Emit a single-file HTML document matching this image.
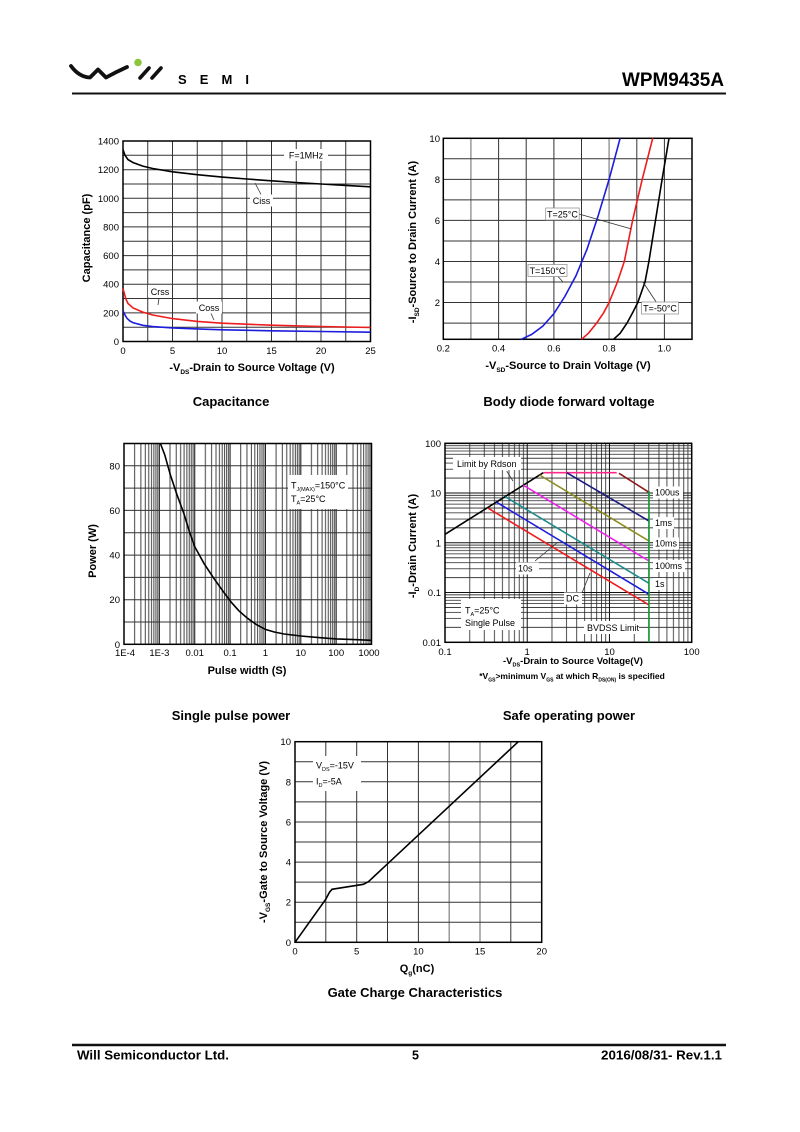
<!DOCTYPE html>
<html><head><meta charset="utf-8"><style>
html,body{margin:0;padding:0;background:#fff;}
svg{display:block;}
text{font-family:"Liberation Sans",Arial,sans-serif;fill:#000;}
.t{font-size:9.5px;}
.ax{font-size:11px;font-weight:bold;}
.cap{font-size:13px;font-weight:bold;}
.an{font-size:9px;}
.g{stroke:#333;stroke-width:1;fill:none;}
.gl{stroke:#8a8a8a;stroke-width:1.3;fill:none;}
.fr{stroke:#000;stroke-width:1.5;fill:none;}
</style></head><body>
<svg width="800" height="1132" viewBox="0 0 800 1132" xmlns="http://www.w3.org/2000/svg">
<defs>
<pattern id="spx" patternUnits="userSpaceOnUse" x="124" y="0" width="35.36" height="20">
<path d="M10.64,0V20M16.87,0V20M21.29,0V20M24.72,0V20M27.52,0V20M29.88,0V20M31.93,0V20M33.74,0V20" stroke="#444" stroke-width="1"/>
</pattern>
<pattern id="sox" patternUnits="userSpaceOnUse" x="445" y="0" width="82.23" height="20">
<path d="M24.75,0V20M39.23,0V20M49.51,0V20M57.48,0V20M63.99,0V20M69.49,0V20M74.26,0V20M78.47,0V20" stroke="#222" stroke-width="0.8"/>
</pattern>
<pattern id="soy" patternUnits="userSpaceOnUse" x="0" y="443.3" width="20" height="49.75">
<path d="M0,2.28H20M0,4.82H20M0,7.70H20M0,11.04H20M0,14.98H20M0,19.80H20M0,26.01H20M0,34.77H20" stroke="#222" stroke-width="0.8"/>
</pattern>
</defs>

<!-- HEADER -->
<path d="M71,66 Q79,77 90,77.5 L98,69.5 L106,77.5 Q116,72 127,67" fill="none" stroke="#111" stroke-width="3.8" stroke-linecap="round" stroke-linejoin="round"/>
<path d="M140,78 L149,68 M152,78 L161,68" fill="none" stroke="#111" stroke-width="3.6" stroke-linecap="round"/>
<circle cx="138" cy="62.5" r="3.8" fill="#8cc63f"/>
<text x="178" y="84" style="font-size:13px;font-weight:600;" textLength="71" lengthAdjust="spacing">SEMI</text>
<text x="724" y="86" text-anchor="end" style="font-size:19px;font-weight:bold;" textLength="102" lengthAdjust="spacingAndGlyphs">WPM9435A</text>
<line x1="72" y1="93.5" x2="726" y2="93.5" stroke="#111" stroke-width="2"/>

<!-- CHART 1: Capacitance -->
<rect x="123" y="141" width="247.5" height="200.5" fill="#fff"/>
<path class="g" d="M147.75,141V341.5M172.5,141V341.5M197.25,141V341.5M222,141V341.5M246.75,141V341.5M271.5,141V341.5M296.25,141V341.5M321,141V341.5M345.75,141V341.5"/>
<path class="g" d="M123,327.2H370.5M123,312.9H370.5M123,298.5H370.5M123,284.2H370.5M123,269.9H370.5M123,255.6H370.5M123,241.3H370.5M123,226.9H370.5M123,212.6H370.5M123,198.3H370.5M123,184H370.5M123,169.7H370.5M123,155.3H370.5"/>
<rect class="fr" x="123" y="141" width="247.5" height="200.5"/>
<polyline fill="none" stroke="#000" stroke-width="1.6" points="123,149.6 125,155.3 128,159.6 132.9,162.5 142.8,166.1 152.7,168.5 172.5,171.8 197.3,174.7 222,177.1 246.8,179 271.5,180.8 296.3,182.5 321,184 345.8,185.4 370.5,186.8"/>
<polyline fill="none" stroke="#ee1c1c" stroke-width="1.6" points="123,288.5 124.5,294.2 126,299.3 128,303.5 132.9,307.8 142.8,312.1 152.7,315 172.5,318.6 197.3,321.4 222,323.2 271.5,325.2 321,326.5 370.5,327.5"/>
<polyline fill="none" stroke="#1c1cdd" stroke-width="1.6" points="123,310.7 125,315 127,318.3 129.9,321 132.9,322.6 142.8,325.3 152.7,326.6 172.5,327.9 197.3,328.9 222,329.8 271.5,330.8 321,331.5 370.5,332.2"/>
<rect x="284" y="149" width="44" height="12" fill="#fff"/>
<text class="an" x="306" y="158.3" text-anchor="middle">F=1MHz</text>
<rect x="250" y="194.5" width="23" height="12" fill="#fff"/>
<text class="an" x="261.5" y="204" text-anchor="middle">Ciss</text>
<line x1="261" y1="194.5" x2="255" y2="183" stroke="#333" stroke-width="0.8"/>
<rect x="148" y="285" width="24" height="12" fill="#fff"/>
<text class="an" x="160" y="295" text-anchor="middle">Crss</text>
<line x1="159" y1="298" x2="158" y2="305" stroke="#333" stroke-width="0.8"/>
<rect x="196" y="301.5" width="26" height="12" fill="#fff"/>
<text class="an" x="209" y="311" text-anchor="middle">Coss</text>
<line x1="211" y1="313.5" x2="214" y2="320" stroke="#333" stroke-width="0.8"/>
<g class="t" text-anchor="end">
<text x="119" y="144.5">1400</text><text x="119" y="173.2">1200</text><text x="119" y="201.8">1000</text><text x="119" y="230.4">800</text><text x="119" y="259.1">600</text><text x="119" y="287.7">400</text><text x="119" y="316.4">200</text><text x="119" y="345">0</text>
</g>
<g class="t" text-anchor="middle">
<text x="123" y="354">0</text><text x="172.5" y="354">5</text><text x="222" y="354">10</text><text x="271.5" y="354">15</text><text x="321" y="354">20</text><text x="370.5" y="354">25</text>
</g>
<text class="ax" x="252" y="371" text-anchor="middle">-V<tspan font-size="6.5" dy="3">DS</tspan><tspan dy="-3">-Drain to Source Voltage (V)</tspan></text>
<text class="ax" transform="translate(90,238) rotate(-90)" text-anchor="middle">Capacitance (pF)</text>
<text class="cap" x="231" y="406" text-anchor="middle">Capacitance</text>

<!-- CHART 2: Body diode -->
<path class="g" d="M498.6,138.3V339.3M526.2,138.3V339.3M553.9,138.3V339.3M581.5,138.3V339.3M636.8,138.3V339.3M664.4,138.3V339.3"/>
<path class="gl" d="M470.9,138.3V339.3M609.1,138.3V339.3"/>
<path class="g" d="M443.3,158.8H692M443.3,179.4H692M443.3,199.9H692M443.3,220.4H692M443.3,241H692M443.3,261.5H692M443.3,282H692M443.3,302.5H692M443.3,323.1H692"/>
<rect class="fr" x="443.3" y="138.3" width="248.7" height="201"/>
<polyline fill="none" stroke="#1c1cdd" stroke-width="1.6" points="521.2,339.3 531.7,334.4 542.8,326.1 553.8,313.8 564.9,296.4 575.9,275.9 587,249.2 598,216.3 609.1,179.4 620.1,138.3"/>
<polyline fill="none" stroke="#ee1c1c" stroke-width="1.6" points="581.5,339.3 588.4,333.3 596.6,323.1 603.6,312.8 609.1,302.5 617.4,282 624.3,261.5 632.6,220.4 642.2,179.4 652.7,138.3"/>
<polyline fill="none" stroke="#000" stroke-width="1.6" points="613.5,339.3 620.1,333.3 627,323.1 632.6,312.8 637.8,302.5 645,282 648.9,261.5 655.5,220.4 662.1,179.4 669,138.3"/>
<line x1="579" y1="214" x2="631.5" y2="229" stroke="#333" stroke-width="0.8"/>
<line x1="558" y1="276.5" x2="563" y2="282" stroke="#333" stroke-width="0.8"/>
<line x1="656.5" y1="302.5" x2="643" y2="282" stroke="#333" stroke-width="0.8"/>
<rect x="545.7" y="208" width="33.5" height="12" fill="#fff" stroke="#888" stroke-width="0.7"/>
<text class="an" x="562.4" y="217.3" text-anchor="middle">T=25°C</text>
<rect x="528" y="264.5" width="39" height="12" fill="#fff" stroke="#888" stroke-width="0.7"/>
<text class="an" x="547.5" y="273.8" text-anchor="middle">T=150°C</text>
<rect x="641.5" y="302" width="37" height="12" fill="#fff" stroke="#888" stroke-width="0.7"/>
<text class="an" x="660" y="311.3" text-anchor="middle">T=-50°C</text>
<g class="t" text-anchor="end">
<text x="440" y="141.8">10</text><text x="440" y="182.9">8</text><text x="440" y="223.9">6</text><text x="440" y="265">4</text><text x="440" y="306">2</text>
</g>
<g class="t" text-anchor="middle">
<text x="443.3" y="351.5">0.2</text><text x="498.6" y="351.5">0.4</text><text x="553.9" y="351.5">0.6</text><text x="609.1" y="351.5">0.8</text><text x="664.4" y="351.5">1.0</text>
</g>
<text class="ax" x="568" y="369" text-anchor="middle">-V<tspan font-size="6.5" dy="3">SD</tspan><tspan dy="-3">-Source to Drain Voltage (V)</tspan></text>
<text class="ax" transform="translate(416,242) rotate(-90)" text-anchor="middle">-I<tspan font-size="6.5" dy="3">SD</tspan><tspan dy="-3">-Source to Drain Current (A)</tspan></text>
<text class="cap" x="569" y="406" text-anchor="middle">Body diode forward voltage</text>

<!-- CHART 3: Single pulse power -->
<rect x="124" y="443.5" width="247.5" height="200.8" fill="url(#spx)"/>
<path d="M159.36,443.5V644.3M194.72,443.5V644.3M230.08,443.5V644.3M265.44,443.5V644.3M300.8,443.5V644.3M336.16,443.5V644.3" stroke="#222" stroke-width="1.1"/>
<path class="g" d="M124,622H371.5M124,599.7H371.5M124,577.4H371.5M124,555.1H371.5M124,532.8H371.5M124,510.4H371.5M124,488.1H371.5M124,465.8H371.5"/>
<rect class="fr" x="124" y="443.5" width="247.5" height="200.8"/>
<polyline fill="none" stroke="#000" stroke-width="1.6" points="160.4,443.5 164.7,454.7 170.3,474.7 177,494.8 183.8,513.3 189.4,531.6 194.7,546.6 203.9,563.3 213.8,578.3 223,591.2 230.8,601.7 238.9,610.8 247.4,618.2 256.6,624.7 265.4,629.4 274.3,632 284.2,634 300.8,636 318.5,637.6 336.2,638.9 353.9,639.6 371.5,640.3"/>
<rect x="288" y="475" width="60" height="34" fill="#fff"/>
<text class="an" x="291" y="488.5">T<tspan font-size="5.5" dy="2.5">J(MAX)</tspan><tspan dy="-2.5">=150°C</tspan></text>
<text class="an" x="291" y="502">T<tspan font-size="5.5" dy="2.5">A</tspan><tspan dy="-2.5">=25°C</tspan></text>
<g class="t" text-anchor="end">
<text x="120" y="469.3">80</text><text x="120" y="513.9">60</text><text x="120" y="558.6">40</text><text x="120" y="603.2">20</text><text x="120" y="647.8">0</text>
</g>
<g class="t" text-anchor="middle">
<text x="125" y="656">1E-4</text><text x="159.4" y="656">1E-3</text><text x="194.7" y="656">0.01</text><text x="230.1" y="656">0.1</text><text x="265.4" y="656">1</text><text x="300.8" y="656">10</text><text x="336.2" y="656">100</text><text x="369" y="656">1000</text>
</g>
<text class="ax" x="247" y="674" text-anchor="middle">Pulse width (S)</text>
<text class="ax" transform="translate(96,551) rotate(-90)" text-anchor="middle">Power (W)</text>
<text class="cap" x="231" y="720" text-anchor="middle">Single pulse power</text>

<!-- CHART 4: SOA -->
<rect x="445" y="443.3" width="246.7" height="199" fill="url(#sox)"/>
<rect x="445" y="443.3" width="246.7" height="199" fill="url(#soy)"/>
<path d="M527.23,443.3V642.3M609.46,443.3V642.3M445,493.05H691.7M445,542.8H691.7M445,592.55H691.7" stroke="#111" stroke-width="1"/>
<rect class="fr" x="445" y="443.3" width="246.7" height="199"/>
<g fill="none" stroke-width="1.6">
<polyline stroke="#000" points="445,534.3 543.3,472.7"/>
<polyline stroke="#ff2a8c" points="543.3,472.7 616.7,472.7"/>
<polyline stroke="#8b1a1a" points="619,473.3 649,492.3"/>
<polyline stroke="#1a1a80" points="566.7,472.7 649,521"/>
<polyline stroke="#8c8c1e" points="539.6,475 649,541"/>
<polyline stroke="#ee22ee" points="523.3,485.2 649,561"/>
<polyline stroke="#1e8c8c" points="505.2,496.7 649,583.3"/>
<polyline stroke="#1c1cdd" points="496.7,502.3 649,594.3"/>
<polyline stroke="#ee1c1c" points="488.3,508.3 649,605"/>
<polyline stroke="#1a9a3a" points="649,491 649,642.3"/>
</g>
<rect x="453" y="457" width="68" height="13" fill="#fff"/>
<text class="an" x="457" y="467">Limit by Rdson</text>
<line x1="506.7" y1="471" x2="513" y2="481" stroke="#333" stroke-width="0.8"/>
<rect x="653" y="486.5" width="30" height="12" fill="#fff"/><text class="an" x="655" y="495.5">100us</text>
<rect x="653" y="517" width="21" height="12" fill="#fff"/><text class="an" x="655" y="526">1ms</text>
<rect x="653" y="537.5" width="26" height="12" fill="#fff"/><text class="an" x="655" y="546.5">10ms</text>
<rect x="653" y="560" width="32" height="12" fill="#fff"/><text class="an" x="655" y="569">100ms</text>
<rect x="653" y="578" width="12" height="12" fill="#fff"/><text class="an" x="655" y="587">1s</text>
<rect x="516" y="562.5" width="23" height="12" fill="#fff"/><text class="an" x="518" y="571.5">10s</text>
<line x1="535" y1="561" x2="558" y2="542" stroke="#333" stroke-width="0.8"/>
<rect x="564" y="592.5" width="18" height="12" fill="#fff"/><text class="an" x="566" y="601.5">DC</text>
<line x1="582" y1="593" x2="590" y2="573" stroke="#333" stroke-width="0.8"/>
<rect x="461" y="599" width="60" height="31" fill="#fff"/>
<text class="an" x="465" y="613.5">T<tspan font-size="5.5" dy="2.5">A</tspan><tspan dy="-2.5">=25°C</tspan></text>
<text class="an" x="465" y="626">Single Pulse</text>
<rect x="584" y="621" width="55" height="13" fill="#fff"/><text class="an" x="587" y="631">BVDSS Limit</text>
<g class="t" text-anchor="end">
<text x="441" y="446.8">100</text><text x="441" y="496.5">10</text><text x="441" y="546.3">1</text><text x="441" y="596">0.1</text><text x="441" y="645.8">0.01</text>
</g>
<g class="t" text-anchor="middle">
<text x="445" y="655">0.1</text><text x="527.2" y="655">1</text><text x="609.5" y="655">10</text><text x="691.7" y="655">100</text>
</g>
<text x="573" y="664" text-anchor="middle" style="font-size:9.5px;font-weight:bold;">-V<tspan font-size="5.5" dy="2.5">DS</tspan><tspan dy="-2.5">-Drain to Source Voltage(V)</tspan></text>
<text x="572" y="679" text-anchor="middle" style="font-size:8.5px;font-weight:bold;">*V<tspan font-size="5" dy="2.5">GS</tspan><tspan dy="-2.5">&gt;minimum V</tspan><tspan font-size="5" dy="2.5">GS</tspan><tspan dy="-2.5"> at which R</tspan><tspan font-size="5" dy="2.5">DS(ON)</tspan><tspan dy="-2.5"> is specified</tspan></text>
<text class="ax" transform="translate(416,546) rotate(-90)" text-anchor="middle">-I<tspan font-size="6.5" dy="3">D</tspan><tspan dy="-3">-Drain Current (A)</tspan></text>
<text class="cap" x="569" y="720" text-anchor="middle">Safe operating power</text>

<!-- CHART 5: Gate charge -->
<path class="g" d="M325.8,741.7V942.3M356.7,741.7V942.3M387.5,741.7V942.3M418.4,741.7V942.3M510.8,741.7V942.3"/>
<path class="gl" d="M449.2,741.7V942.3M480,741.7V942.3"/>
<path class="g" d="M295,922.2H541.7M295,902.2H541.7M295,882.1H541.7M295,862.1H541.7M295,842H541.7M295,822H541.7M295,801.9H541.7M295,781.8H541.7M295,761.8H541.7"/>
<rect class="fr" x="295" y="741.7" width="246.7" height="200.6"/>
<polyline fill="none" stroke="#000" stroke-width="1.6" points="295,942.3 325.8,899.2 329.5,892.2 332,889.3 363.3,884.3 368.4,881.7 518.3,741.7"/>
<rect x="313" y="756" width="48" height="35" fill="#fff"/>
<text class="an" x="316" y="768.5">V<tspan font-size="5.5" dy="2.5">DS</tspan><tspan dy="-2.5">=-15V</tspan></text>
<text class="an" x="316" y="784.5">I<tspan font-size="5.5" dy="2.5">D</tspan><tspan dy="-2.5">=-5A</tspan></text>
<g class="t" text-anchor="end">
<text x="291" y="745.2">10</text><text x="291" y="785.3">8</text><text x="291" y="825.5">6</text><text x="291" y="865.6">4</text><text x="291" y="905.7">2</text><text x="291" y="945.8">0</text>
</g>
<g class="t" text-anchor="middle">
<text x="295" y="954.5">0</text><text x="356.7" y="954.5">5</text><text x="418.4" y="954.5">10</text><text x="480" y="954.5">15</text><text x="541.7" y="954.5">20</text>
</g>
<text class="ax" x="417" y="972" text-anchor="middle">Q<tspan font-size="6.5" dy="3">g</tspan><tspan dy="-3">(nC)</tspan></text>
<text class="ax" transform="translate(267,842) rotate(-90)" text-anchor="middle">-V<tspan font-size="6.5" dy="3">GS</tspan><tspan dy="-3">-Gate to Source Voltage (V)</tspan></text>
<text class="cap" x="415" y="997" text-anchor="middle">Gate Charge Characteristics</text>

<!-- FOOTER -->
<line x1="72" y1="1045" x2="726" y2="1045" stroke="#111" stroke-width="2.5"/>
<text x="77" y="1059.5" style="font-size:12.5px;font-weight:bold;" textLength="152" lengthAdjust="spacingAndGlyphs">Will Semiconductor Ltd.</text>
<text x="415.5" y="1059.5" text-anchor="middle" style="font-size:12.5px;font-weight:bold;">5</text>
<text x="722" y="1059.5" text-anchor="end" style="font-size:12.5px;font-weight:bold;" textLength="121" lengthAdjust="spacingAndGlyphs">2016/08/31- Rev.1.1</text>
</svg>
</body></html>
